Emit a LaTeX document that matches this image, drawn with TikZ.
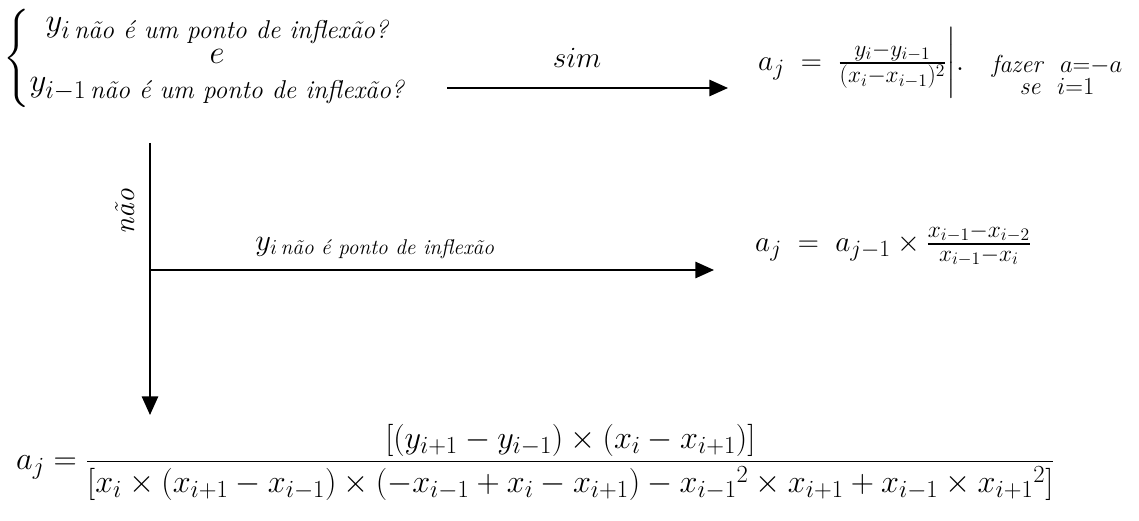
\RequirePackage{fix-cm}
\documentclass[tikz,border=0pt]{standalone}
\usepackage{amsmath,amssymb}
\usepackage{xcolor}
\usepackage{tikz}
\usetikzlibrary{arrows.meta}
\DeclareMathSizes{25}{25}{20}{15}
\DeclareMathSizes{28}{28}{22}{17}
\DeclareMathSizes{27.5}{27.5}{21}{16}
\tikzset{
  eq/.style={inner sep=0pt, font=\fontsize{25}{30}\selectfont},
  pequeno/.style={inner sep=0pt, font=\fontsize{21}{22}\selectfont},
  seta/.style={line width=1.6pt, -{Triangle[length=16pt,width=14pt]}},
}
\newcommand{\itxt}[1]{\text{\itshape #1}}

\begin{document}
\begin{tikzpicture}[x=0.03cm, y=0.03cm]
  % 1 px = 0.03cm, origem em baixo a esquerda
  \useasboundingbox (0,0) rectangle (1139,520);

  % pergunta
  \node[eq, font=\fontsize{28}{24}\selectfont, anchor=west] (pergunta) at (3,462)
    {\delimiterfactor=850 $\left\{\begin{array}{@{}c@{}}
      y_{i\,\itxt{não é um ponto de inflexão?}}\\
      e\\
      y_{i-1\,\itxt{não é um ponto de inflexão?}}
    \end{array}\right.$};

  % ramo sim
  \coordinate (simA) at (447,432);
  \coordinate (simB) at (728,432);
  \draw[seta] (simA) -- (simB);
  \node[eq] (sim) at (577,462) {$sim$};

  % a_j no caso sim
  \node[eq, font=\fontsize{25}{26}\selectfont, anchor=west] (aSim) at (758,457)
    {$a_j \;=\; \frac{y_i-y_{i-1}}{(x_i-x_{i-1})^2}\bigg|.$};
  \node[pequeno] (regra) at (1057,442)
    {$\begin{array}{c}\mathit{fazer}\ \ a{=}{-a}\\[-3pt] \mathit{se}\ \ i{=}1\end{array}$};

  % ramo nao
  \node[eq, rotate=90] (nao) at (125,308) {$\itxt{não}$};
  \coordinate (topo) at (150,377);
  \coordinate (canto) at (150,250);
  \coordinate (baixo) at (150,105);
  \coordinate (fim) at (714,250);
  \draw[seta] (topo) -- (baixo);
  \draw[seta] (canto) -- (fim);
  \node[eq, font=\fontsize{26}{30}\selectfont] (inflexao) at (375,272)
    {$y_{i\,\itxt{não é ponto de inflexão}}$};

  % a_j no caso nao inflexao
  \node[eq, anchor=west] (aNao) at (755,275)
    {$a_j \;=\; a_{j-1}\times\frac{x_{i-1}-x_{i-2}}{x_{i-1}-x_i}$};

  % a_j geral
  \node[eq, font=\fontsize{27.5}{32}\selectfont, anchor=west] (aGeral) at (16,58)
    {$a_j = \dfrac{[(y_{i+1}-y_{i-1})\times(x_i-x_{i+1})]}{[x_i\times(x_{i+1}-x_{i-1})\times(-x_{i-1}+x_i-x_{i+1})-{x_{i-1}}^2\times x_{i+1}+x_{i-1}\times{x_{i+1}}^2]}$};

\end{tikzpicture}
\end{document}
